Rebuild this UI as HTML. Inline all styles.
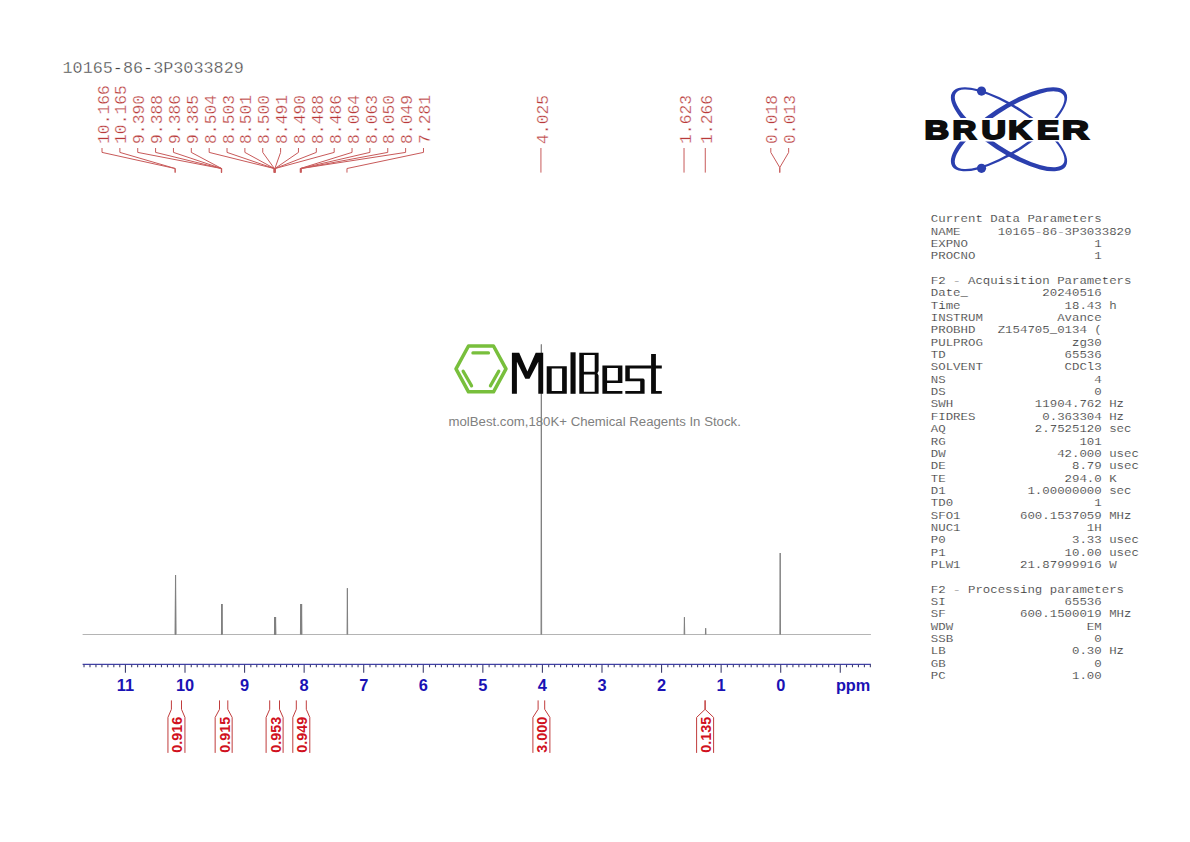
<!DOCTYPE html><html><head><meta charset="utf-8"><style>html,body{margin:0;padding:0;background:#fff;width:1190px;height:842px;overflow:hidden}svg{display:block}</style></head><body>
<svg width="1190" height="842" viewBox="0 0 1190 842">
<rect width="1190" height="842" fill="#fff"/>
<text x="62.5" y="72.6" font-family="Liberation Mono" font-size="16.8" fill="#404040" stroke="#fff" stroke-width="0.35">10165-86-3P3033829</text>
<text transform="translate(108.60,143.9) rotate(-90)" font-family="Liberation Mono" font-size="16.3" fill="#b83a3a" stroke="#fff" stroke-width="0.3">10.166</text>
<text transform="translate(126.46,143.9) rotate(-90)" font-family="Liberation Mono" font-size="16.3" fill="#b83a3a" stroke="#fff" stroke-width="0.3">10.165</text>
<text transform="translate(144.32,143.9) rotate(-90)" font-family="Liberation Mono" font-size="16.3" fill="#b83a3a" stroke="#fff" stroke-width="0.3">9.390</text>
<text transform="translate(162.18,143.9) rotate(-90)" font-family="Liberation Mono" font-size="16.3" fill="#b83a3a" stroke="#fff" stroke-width="0.3">9.388</text>
<text transform="translate(180.04,143.9) rotate(-90)" font-family="Liberation Mono" font-size="16.3" fill="#b83a3a" stroke="#fff" stroke-width="0.3">9.386</text>
<text transform="translate(197.90,143.9) rotate(-90)" font-family="Liberation Mono" font-size="16.3" fill="#b83a3a" stroke="#fff" stroke-width="0.3">9.385</text>
<text transform="translate(215.76,143.9) rotate(-90)" font-family="Liberation Mono" font-size="16.3" fill="#b83a3a" stroke="#fff" stroke-width="0.3">8.504</text>
<text transform="translate(233.62,143.9) rotate(-90)" font-family="Liberation Mono" font-size="16.3" fill="#b83a3a" stroke="#fff" stroke-width="0.3">8.503</text>
<text transform="translate(251.48,143.9) rotate(-90)" font-family="Liberation Mono" font-size="16.3" fill="#b83a3a" stroke="#fff" stroke-width="0.3">8.501</text>
<text transform="translate(269.34,143.9) rotate(-90)" font-family="Liberation Mono" font-size="16.3" fill="#b83a3a" stroke="#fff" stroke-width="0.3">8.500</text>
<text transform="translate(287.20,143.9) rotate(-90)" font-family="Liberation Mono" font-size="16.3" fill="#b83a3a" stroke="#fff" stroke-width="0.3">8.491</text>
<text transform="translate(305.06,143.9) rotate(-90)" font-family="Liberation Mono" font-size="16.3" fill="#b83a3a" stroke="#fff" stroke-width="0.3">8.490</text>
<text transform="translate(322.92,143.9) rotate(-90)" font-family="Liberation Mono" font-size="16.3" fill="#b83a3a" stroke="#fff" stroke-width="0.3">8.488</text>
<text transform="translate(340.78,143.9) rotate(-90)" font-family="Liberation Mono" font-size="16.3" fill="#b83a3a" stroke="#fff" stroke-width="0.3">8.486</text>
<text transform="translate(358.64,143.9) rotate(-90)" font-family="Liberation Mono" font-size="16.3" fill="#b83a3a" stroke="#fff" stroke-width="0.3">8.064</text>
<text transform="translate(376.50,143.9) rotate(-90)" font-family="Liberation Mono" font-size="16.3" fill="#b83a3a" stroke="#fff" stroke-width="0.3">8.063</text>
<text transform="translate(394.36,143.9) rotate(-90)" font-family="Liberation Mono" font-size="16.3" fill="#b83a3a" stroke="#fff" stroke-width="0.3">8.050</text>
<text transform="translate(412.22,143.9) rotate(-90)" font-family="Liberation Mono" font-size="16.3" fill="#b83a3a" stroke="#fff" stroke-width="0.3">8.049</text>
<text transform="translate(430.08,143.9) rotate(-90)" font-family="Liberation Mono" font-size="16.3" fill="#b83a3a" stroke="#fff" stroke-width="0.3">7.281</text>
<text transform="translate(547.53,143.9) rotate(-90)" font-family="Liberation Mono" font-size="16.3" fill="#b83a3a" stroke="#fff" stroke-width="0.3">4.025</text>
<text transform="translate(690.62,143.9) rotate(-90)" font-family="Liberation Mono" font-size="16.3" fill="#b83a3a" stroke="#fff" stroke-width="0.3">1.623</text>
<text transform="translate(711.88,143.9) rotate(-90)" font-family="Liberation Mono" font-size="16.3" fill="#b83a3a" stroke="#fff" stroke-width="0.3">1.266</text>
<text transform="translate(777.40,143.9) rotate(-90)" font-family="Liberation Mono" font-size="16.3" fill="#b83a3a" stroke="#fff" stroke-width="0.3">0.018</text>
<text transform="translate(795.26,143.9) rotate(-90)" font-family="Liberation Mono" font-size="16.3" fill="#b83a3a" stroke="#fff" stroke-width="0.3">0.013</text>
<path d="M102.00 148V152.4L175.11 168.5V172.6 M119.86 148V152.4L175.17 168.5V172.6 M137.72 148V152.4L221.34 168.5V172.6 M155.58 148V152.4L221.46 168.5V172.6 M173.44 148V152.4L221.58 168.5V172.6 M191.30 148V152.4L221.64 168.5V172.6 M209.16 148V152.4L274.12 168.5V172.6 M227.02 148V152.4L274.18 168.5V172.6 M244.88 148V152.4L274.30 168.5V172.6 M262.74 148V152.4L274.36 168.5V172.6 M280.60 148V152.4L274.89 168.5V172.6 M298.46 148V152.4L274.95 168.5V172.6 M316.32 148V152.4L275.07 168.5V172.6 M334.18 148V152.4L275.19 168.5V172.6 M352.04 148V152.4L300.33 168.5V172.6 M369.90 148V152.4L300.39 168.5V172.6 M387.76 148V152.4L301.16 168.5V172.6 M405.62 148V152.4L301.22 168.5V172.6 M423.48 148V152.4L346.97 168.5V172.6 M540.93 148V172.6 M684.02 148V172.6 M705.28 148V172.6 M770.80 148V152.4L779.78 167.5V172.6 M788.66 148V152.4L779.78 167.5V172.6" stroke="#c85a5a" stroke-width="1" fill="none"/>
<line x1="82.6" y1="634.5" x2="870.9" y2="634.5" stroke="#b4b4b4" stroke-width="1"/>
<path d="M175.21 634.5L175.51 575L175.81 634.5M175.27 634.5L175.57 575L175.87 634.5M221.44 634.5L221.74 604L222.04 634.5M221.68 634.5L221.98 604L222.28 634.5M274.45 634.5L274.75 617L275.06 634.5M274.69 634.5L274.99 617L275.29 634.5M274.99 634.5L275.29 617L275.59 634.5M275.29 634.5L275.59 617L275.89 634.5M300.43 634.5L300.73 604L301.03 634.5M301.32 634.5L301.62 604L301.92 634.5M347.07 634.5L347.37 588.2L347.67 634.5M541.03 634.5L541.33 344.4L541.63 634.5M684.12 634.5L684.42 617.2L684.72 634.5M705.38 634.5L705.68 628.2L705.98 634.5M779.88 634.5L780.18 553L780.48 634.5" stroke="#808080" stroke-width="1" fill="none" stroke-linejoin="miter"/>
<line x1="82.6" y1="664.4" x2="870.9" y2="664.4" stroke="#4040a8" stroke-width="1.2"/>
<path d="M870.36 664.4v2.8 M864.40 664.4v2.8 M858.44 664.4v2.8 M852.48 664.4v2.8 M846.53 664.4v2.8 M840.27 664.4v8.4 M834.61 664.4v2.8 M828.66 664.4v2.8 M822.70 664.4v2.8 M816.74 664.4v2.8 M810.78 664.4v2.8 M804.83 664.4v2.8 M798.87 664.4v2.8 M792.91 664.4v2.8 M786.96 664.4v2.8 M780.70 664.4v8.4 M775.04 664.4v2.8 M769.09 664.4v2.8 M763.13 664.4v2.8 M757.17 664.4v2.8 M751.22 664.4v2.8 M745.26 664.4v2.8 M739.30 664.4v2.8 M733.34 664.4v2.8 M727.39 664.4v2.8 M721.13 664.4v8.4 M715.47 664.4v2.8 M709.52 664.4v2.8 M703.56 664.4v2.8 M697.60 664.4v2.8 M691.64 664.4v2.8 M685.69 664.4v2.8 M679.73 664.4v2.8 M673.77 664.4v2.8 M667.82 664.4v2.8 M661.56 664.4v8.4 M655.90 664.4v2.8 M649.95 664.4v2.8 M643.99 664.4v2.8 M638.03 664.4v2.8 M632.08 664.4v2.8 M626.12 664.4v2.8 M620.16 664.4v2.8 M614.20 664.4v2.8 M608.25 664.4v2.8 M601.99 664.4v8.4 M596.33 664.4v2.8 M590.38 664.4v2.8 M584.42 664.4v2.8 M578.46 664.4v2.8 M572.50 664.4v2.8 M566.55 664.4v2.8 M560.59 664.4v2.8 M554.63 664.4v2.8 M548.68 664.4v2.8 M542.42 664.4v8.4 M536.76 664.4v2.8 M530.81 664.4v2.8 M524.85 664.4v2.8 M518.89 664.4v2.8 M512.93 664.4v2.8 M506.98 664.4v2.8 M501.02 664.4v2.8 M495.06 664.4v2.8 M489.11 664.4v2.8 M482.85 664.4v8.4 M477.19 664.4v2.8 M471.24 664.4v2.8 M465.28 664.4v2.8 M459.32 664.4v2.8 M453.37 664.4v2.8 M447.41 664.4v2.8 M441.45 664.4v2.8 M435.49 664.4v2.8 M429.54 664.4v2.8 M423.28 664.4v8.4 M417.62 664.4v2.8 M411.67 664.4v2.8 M405.71 664.4v2.8 M399.75 664.4v2.8 M393.80 664.4v2.8 M387.84 664.4v2.8 M381.88 664.4v2.8 M375.92 664.4v2.8 M369.97 664.4v2.8 M363.71 664.4v8.4 M358.05 664.4v2.8 M352.10 664.4v2.8 M346.14 664.4v2.8 M340.18 664.4v2.8 M334.23 664.4v2.8 M328.27 664.4v2.8 M322.31 664.4v2.8 M316.35 664.4v2.8 M310.40 664.4v2.8 M304.14 664.4v8.4 M298.48 664.4v2.8 M292.53 664.4v2.8 M286.57 664.4v2.8 M280.61 664.4v2.8 M274.66 664.4v2.8 M268.70 664.4v2.8 M262.74 664.4v2.8 M256.78 664.4v2.8 M250.83 664.4v2.8 M244.57 664.4v8.4 M238.91 664.4v2.8 M232.96 664.4v2.8 M227.00 664.4v2.8 M221.04 664.4v2.8 M215.09 664.4v2.8 M209.13 664.4v2.8 M203.17 664.4v2.8 M197.21 664.4v2.8 M191.26 664.4v2.8 M185.00 664.4v8.4 M179.34 664.4v2.8 M173.39 664.4v2.8 M167.43 664.4v2.8 M161.47 664.4v2.8 M155.52 664.4v2.8 M149.56 664.4v2.8 M143.60 664.4v2.8 M137.64 664.4v2.8 M131.69 664.4v2.8 M125.43 664.4v8.4 M119.77 664.4v2.8 M113.82 664.4v2.8 M107.86 664.4v2.8 M101.90 664.4v2.8 M95.95 664.4v2.8 M89.99 664.4v2.8 M84.03 664.4v2.8" stroke="#40406e" stroke-width="1.1" fill="none"/>
<text x="780.70" y="690.6" text-anchor="middle" font-family="Liberation Sans" font-weight="bold" font-size="16.4" fill="#1a12b4">0</text>
<text x="721.13" y="690.6" text-anchor="middle" font-family="Liberation Sans" font-weight="bold" font-size="16.4" fill="#1a12b4">1</text>
<text x="661.56" y="690.6" text-anchor="middle" font-family="Liberation Sans" font-weight="bold" font-size="16.4" fill="#1a12b4">2</text>
<text x="601.99" y="690.6" text-anchor="middle" font-family="Liberation Sans" font-weight="bold" font-size="16.4" fill="#1a12b4">3</text>
<text x="542.42" y="690.6" text-anchor="middle" font-family="Liberation Sans" font-weight="bold" font-size="16.4" fill="#1a12b4">4</text>
<text x="482.85" y="690.6" text-anchor="middle" font-family="Liberation Sans" font-weight="bold" font-size="16.4" fill="#1a12b4">5</text>
<text x="423.28" y="690.6" text-anchor="middle" font-family="Liberation Sans" font-weight="bold" font-size="16.4" fill="#1a12b4">6</text>
<text x="363.71" y="690.6" text-anchor="middle" font-family="Liberation Sans" font-weight="bold" font-size="16.4" fill="#1a12b4">7</text>
<text x="304.14" y="690.6" text-anchor="middle" font-family="Liberation Sans" font-weight="bold" font-size="16.4" fill="#1a12b4">8</text>
<text x="244.57" y="690.6" text-anchor="middle" font-family="Liberation Sans" font-weight="bold" font-size="16.4" fill="#1a12b4">9</text>
<text x="185.00" y="690.6" text-anchor="middle" font-family="Liberation Sans" font-weight="bold" font-size="16.4" fill="#1a12b4">10</text>
<text x="125.43" y="690.6" text-anchor="middle" font-family="Liberation Sans" font-weight="bold" font-size="16.4" fill="#1a12b4">11</text>
<text x="835.9" y="690.8" font-family="Liberation Sans" font-weight="bold" font-size="16.4" fill="#1a12b4" textLength="34.4" lengthAdjust="spacingAndGlyphs">ppm</text>
<text transform="translate(182.45,752.7) rotate(-90)" font-family="Liberation Sans" font-weight="bold" font-size="14.4" fill="#d01020">0.916</text>
<text transform="translate(229.65,752.7) rotate(-90)" font-family="Liberation Sans" font-weight="bold" font-size="14.4" fill="#d01020">0.915</text>
<text transform="translate(280.60,752.7) rotate(-90)" font-family="Liberation Sans" font-weight="bold" font-size="14.4" fill="#d01020">0.953</text>
<text transform="translate(307.30,752.7) rotate(-90)" font-family="Liberation Sans" font-weight="bold" font-size="14.4" fill="#d01020">0.949</text>
<text transform="translate(547.40,752.7) rotate(-90)" font-family="Liberation Sans" font-weight="bold" font-size="14.4" fill="#d01020">3.000</text>
<text transform="translate(711.10,752.7) rotate(-90)" font-family="Liberation Sans" font-weight="bold" font-size="14.4" fill="#d01020">0.135</text>
<path d="M171.4 700.4V709.3L167.95 717.4V752.9 M181.5 700.4V709.3L184.95 717.4V752.9 M219.5 700.4V709.3L215.15 717.4V752.9 M227.8 700.4V709.3L232.15 717.4V752.9 M269.7 700.4V709.3L266.10 717.4V752.9 M279.5 700.4V709.3L283.10 717.4V752.9 M296.3 700.4V709.3L292.80 717.4V752.9 M306.3 700.4V709.3L309.80 717.4V752.9 M538.1 700.4V709.3L532.90 717.4V752.9 M544.7 700.4V709.3L549.90 717.4V752.9 M705.1 700.4V709.3L696.60 717.4V752.9 M705.1 700.4V709.3L713.60 717.4V752.9" stroke="#c03c3c" stroke-width="1" fill="none"/>
<g style="white-space:pre" font-family="Liberation Mono" font-size="12.4" fill="#383838" stroke="#fff" stroke-width="0.18" xml:space="preserve">
<text transform="translate(930.8 222.20) scale(1 0.9)" xml:space="preserve">Current Data Parameters</text>
<text transform="translate(930.8 234.55) scale(1 0.9)" xml:space="preserve">NAME     10165-86-3P3033829</text>
<text transform="translate(930.8 246.90) scale(1 0.9)" xml:space="preserve">EXPNO                 1</text>
<text transform="translate(930.8 259.25) scale(1 0.9)" xml:space="preserve">PROCNO                1</text>
<text transform="translate(930.8 283.95) scale(1 0.9)" xml:space="preserve">F2 - Acquisition Parameters</text>
<text transform="translate(930.8 296.30) scale(1 0.9)" xml:space="preserve">Date_          20240516</text>
<text transform="translate(930.8 308.65) scale(1 0.9)" xml:space="preserve">Time              18.43 h</text>
<text transform="translate(930.8 321.00) scale(1 0.9)" xml:space="preserve">INSTRUM          Avance</text>
<text transform="translate(930.8 333.35) scale(1 0.9)" xml:space="preserve">PROBHD   Z154705_0134 (</text>
<text transform="translate(930.8 345.70) scale(1 0.9)" xml:space="preserve">PULPROG            zg30</text>
<text transform="translate(930.8 358.05) scale(1 0.9)" xml:space="preserve">TD                65536</text>
<text transform="translate(930.8 370.40) scale(1 0.9)" xml:space="preserve">SOLVENT           CDCl3</text>
<text transform="translate(930.8 382.75) scale(1 0.9)" xml:space="preserve">NS                    4</text>
<text transform="translate(930.8 395.10) scale(1 0.9)" xml:space="preserve">DS                    0</text>
<text transform="translate(930.8 407.45) scale(1 0.9)" xml:space="preserve">SWH           11904.762 Hz</text>
<text transform="translate(930.8 419.80) scale(1 0.9)" xml:space="preserve">FIDRES         0.363304 Hz</text>
<text transform="translate(930.8 432.15) scale(1 0.9)" xml:space="preserve">AQ            2.7525120 sec</text>
<text transform="translate(930.8 444.50) scale(1 0.9)" xml:space="preserve">RG                  101</text>
<text transform="translate(930.8 456.85) scale(1 0.9)" xml:space="preserve">DW               42.000 usec</text>
<text transform="translate(930.8 469.20) scale(1 0.9)" xml:space="preserve">DE                 8.79 usec</text>
<text transform="translate(930.8 481.55) scale(1 0.9)" xml:space="preserve">TE                294.0 K</text>
<text transform="translate(930.8 493.90) scale(1 0.9)" xml:space="preserve">D1           1.00000000 sec</text>
<text transform="translate(930.8 506.25) scale(1 0.9)" xml:space="preserve">TD0                   1</text>
<text transform="translate(930.8 518.60) scale(1 0.9)" xml:space="preserve">SFO1        600.1537059 MHz</text>
<text transform="translate(930.8 530.95) scale(1 0.9)" xml:space="preserve">NUC1                 1H</text>
<text transform="translate(930.8 543.30) scale(1 0.9)" xml:space="preserve">P0                 3.33 usec</text>
<text transform="translate(930.8 555.65) scale(1 0.9)" xml:space="preserve">P1                10.00 usec</text>
<text transform="translate(930.8 568.00) scale(1 0.9)" xml:space="preserve">PLW1        21.87999916 W</text>
<text transform="translate(930.8 592.70) scale(1 0.9)" xml:space="preserve">F2 - Processing parameters</text>
<text transform="translate(930.8 605.05) scale(1 0.9)" xml:space="preserve">SI                65536</text>
<text transform="translate(930.8 617.40) scale(1 0.9)" xml:space="preserve">SF          600.1500019 MHz</text>
<text transform="translate(930.8 629.75) scale(1 0.9)" xml:space="preserve">WDW                  EM</text>
<text transform="translate(930.8 642.10) scale(1 0.9)" xml:space="preserve">SSB                   0</text>
<text transform="translate(930.8 654.45) scale(1 0.9)" xml:space="preserve">LB                 0.30 Hz</text>
<text transform="translate(930.8 666.80) scale(1 0.9)" xml:space="preserve">GB                    0</text>
<text transform="translate(930.8 679.15) scale(1 0.9)" xml:space="preserve">PC                 1.00</text>
</g>
<g>
<path transform="rotate(33.2 1009.0 129.3)" d="M941.25 129.30A67.75 23.4 0 1 0 1076.75 129.30A67.75 23.4 0 1 0 941.25 129.30ZM944.75 128.20A64.25 19.8 0 1 0 1073.25 128.20A64.25 19.8 0 1 0 944.75 128.20Z" fill="#2b3fae" fill-rule="evenodd"/>
<path transform="rotate(-33.2 1009.0 129.3)" d="M941.25 129.30A67.75 23.4 0 1 0 1076.75 129.30A67.75 23.4 0 1 0 941.25 129.30ZM944.75 130.40A64.25 19.8 0 1 0 1073.25 130.40A64.25 19.8 0 1 0 944.75 130.40Z" fill="#2b3fae" fill-rule="evenodd"/>
<circle cx="981.5" cy="91.1" r="4.6" fill="#2b3fae"/><circle cx="981.5" cy="168.3" r="4.6" fill="#2b3fae"/>
<rect x="920" y="118" width="175" height="23.5" fill="#fff"/>
<text x="924.4" y="138.7" font-family="Liberation Sans" font-weight="bold" font-size="25.6" textLength="24.5" lengthAdjust="spacingAndGlyphs" fill="#0d0d0d" stroke="#0d0d0d" stroke-width="1.9">B</text>
<text x="952.6" y="138.7" font-family="Liberation Sans" font-weight="bold" font-size="25.6" textLength="23.8" lengthAdjust="spacingAndGlyphs" fill="#0d0d0d" stroke="#0d0d0d" stroke-width="1.9">R</text>
<text x="981.4" y="138.7" font-family="Liberation Sans" font-weight="bold" font-size="25.6" textLength="24.4" lengthAdjust="spacingAndGlyphs" fill="#0d0d0d" stroke="#0d0d0d" stroke-width="1.9">U</text>
<text x="1008.3" y="138.7" font-family="Liberation Sans" font-weight="bold" font-size="25.6" textLength="23.2" lengthAdjust="spacingAndGlyphs" fill="#0d0d0d" stroke="#0d0d0d" stroke-width="1.9">K</text>
<text x="1036.9" y="138.7" font-family="Liberation Sans" font-weight="bold" font-size="25.6" textLength="22.1" lengthAdjust="spacingAndGlyphs" fill="#0d0d0d" stroke="#0d0d0d" stroke-width="1.9">E</text>
<text x="1061.9" y="138.7" font-family="Liberation Sans" font-weight="bold" font-size="25.6" textLength="26.8" lengthAdjust="spacingAndGlyphs" fill="#0d0d0d" stroke="#0d0d0d" stroke-width="1.9">R</text>
</g>
<g fill="none" stroke="#78bf3c" stroke-width="3.5" stroke-linejoin="round"><path d="M456 368.9L468.5 346H493.5L506 368.9L493.5 391.8H468.5Z"/></g>
<g stroke="#78bf3c" stroke-width="3.2" stroke-linecap="round"><path d="M472.9 352.9H488.5M463.1 371.1L471.6 385.9M498.8 371.1L490.4 385.9"/></g>
<path d="M511.9 393.8V352.8H519.2L527.4 371.5L535.7 352.8H543.2V393.8H538.3V361.8L529.5 378.7H525.3L516.9 361.8V393.8Z" fill="#0a0a0a" fill-rule="evenodd"/>
<path d="M546.7 366.2H566.8V393.8H546.7Z M551.7 368.4V390.9H562.1V368.4Z" fill="#0a0a0a" fill-rule="evenodd"/>
<path d="M570.5 352.3H575.6V393.8H570.5Z" fill="#0a0a0a" fill-rule="evenodd"/>
<path d="M579.3 352.8H598.6V371L597.4 373.3L598.6 375.5V393.8H579.3Z M583.9 354.9V371.8H594.7V354.9Z M583.9 374.5V391.8H594.7V374.5Z" fill="#0a0a0a" fill-rule="evenodd"/>
<path d="M602.4 365.4H622.4V383H607.1V391H622.4V393.8H602.4Z M607.1 368V380.4H617.9V368Z" fill="#0a0a0a" fill-rule="evenodd"/>
<path d="M625.3 365.6H651.5V368.5H629.8V378.6H643.4L644.6 379.8V393.8H625.3V391H640.2V381.3H625.3Z" fill="#0a0a0a" fill-rule="evenodd"/>
<path d="M651.1 353.9H655.9V365.6H661.8V368.5H655.9V391H661.8V393.8H651.1Z" fill="#0a0a0a" fill-rule="evenodd"/>
<text x="448.5" y="425.8" font-family="Liberation Sans" font-size="12" fill="#808080" textLength="292.3" lengthAdjust="spacingAndGlyphs">molBest.com,180K+ Chemical Reagents In Stock.</text>
</svg></body></html>
